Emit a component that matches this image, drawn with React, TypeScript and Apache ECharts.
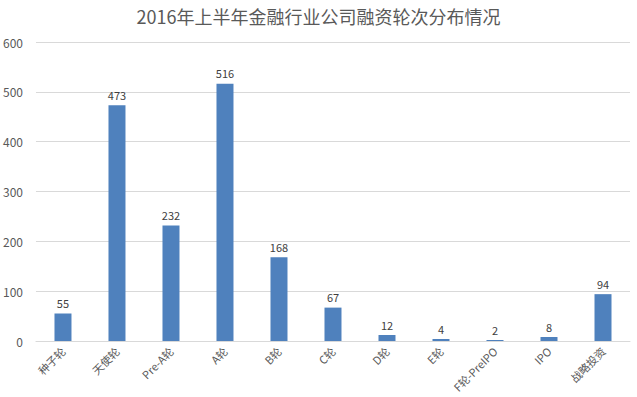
import React, { useEffect, useRef } from "react";
import * as echarts from "echarts";

const title = "2016年上半年金融行业公司融资轮次分布情况";
const categories = ["种子轮", "天使轮", "Pre-A轮", "A轮", "B轮", "C轮", "D轮", "E轮", "F轮-PreIPO", "IPO", "战略投资"];
const values = [55, 473, 232, 516, 168, 67, 12, 4, 2, 8, 94];

export default function App() {
  const ref = useRef<HTMLDivElement>(null);
  useEffect(() => {
    document.body.style.margin = "0";
    const chart = echarts.init(ref.current!, null, { renderer: "svg" });
    const font = "'Noto Sans CJK SC', 'Noto Sans', sans-serif";
    chart.setOption({
      animation: false,
      backgroundColor: "#ffffff",
      textStyle: { fontFamily: font },
      title: {
        text: title,
        left: "center",
        top: 2,
        textStyle: { fontSize: 18, fontWeight: "normal", color: "#595959", fontFamily: font },
      },
      grid: { left: 33, right: 7, top: 42, bottom: 56, containLabel: false },
      xAxis: {
        type: "category",
        data: categories,
        axisLine: { lineStyle: { color: "#d9d9d9" } },
        axisTick: { show: false },
        axisLabel: { rotate: 45, color: "#595959", fontSize: 11, margin: 8, interval: 0 },
      },
      yAxis: {
        type: "value",
        min: 0,
        max: 600,
        interval: 100,
        axisLine: { show: false },
        axisTick: { show: false },
        splitLine: { lineStyle: { color: "#d9d9d9" } },
        axisLabel: { color: "#595959", fontSize: 12, margin: 13 },
      },
      series: [
        {
          type: "bar",
          data: values,
          barWidth: 17,
          itemStyle: { color: "#4f81bd" },
          label: { show: true, position: "top", color: "#404040", fontSize: 11, distance: 5 },
        },
      ],
    });
    return () => chart.dispose();
  }, []);
  return <div ref={ref} style={{ position: "fixed", left: 0, top: 0, width: 637, height: 397 }} />;
}
